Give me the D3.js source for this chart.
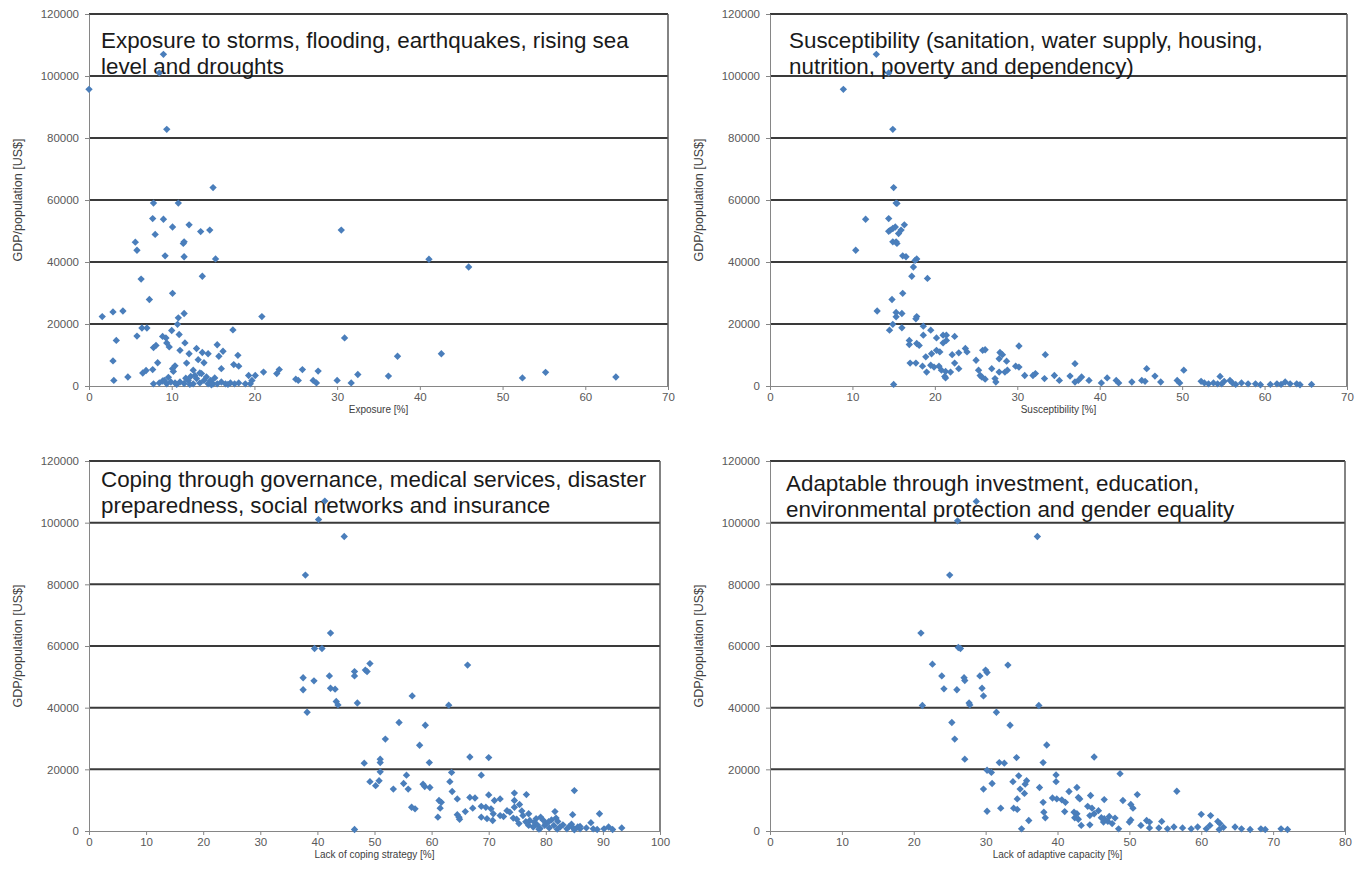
<!DOCTYPE html>
<html lang="en">
<head>
<meta charset="utf-8">
<title>GDP per capita vs. vulnerability components</title>
<script src="https://d3js.org/d3.v7.min.js"></script>
<style>
  body { margin: 0; background: #fff; }
  text { font-family: "Liberation Sans", Arial, sans-serif; }
</style>
</head>
<body>
<div id="chart"></div>
<script>
// each point: [percent, GDP/population in US$]
var exposure = [
  [0,95700],[9.0,107000],[8.5,101000],[9.4,82800],[15.0,64000],[7.8,59000],[10.8,59000],[7.7,54000],
  [9.0,53800],[10.1,51300],[12.1,52000],[8.0,48900],[13.5,49800],[14.6,50300],[5.6,46400],[5.8,43800],
  [11.4,46000],[11.5,46500],[9.2,42000],[11.5,41700],[15.3,41000],[30.5,50300],[41.1,40900],[45.9,38400],
  [13.7,35400],[6.3,34500],[10.1,29900],[7.3,27900],[1.6,22400],[2.9,23900],[4.1,24200],[11.5,23400],
  [10.8,22000],[20.9,22400],[10.7,19900],[6.4,18700],[7.0,18700],[17.4,18100],[10.0,17900],[10.9,16600],
  [5.8,16100],[8.9,16000],[9.3,15500],[3.3,14700],[30.9,15500],[11.6,13900],[9.4,13900],[15.5,13300],
  [7.8,12400],[8.1,13100],[9.7,12600],[13.0,12100],[11.0,11500],[13.7,10800],[14.4,10400],[16.2,11200],
  [12.1,10400],[18.0,9900],[15.7,9600],[42.6,10400],[37.3,9600],[2.9,8100],[13.2,8500],[8.3,7500],
  [13.9,7500],[17.5,6900],[18.1,6400],[10.4,6500],[11.8,7400],[16.0,5600],[7.7,5300],[6.9,5000],
  [6.5,4200],[10.1,5600],[10.2,4700],[12.6,5100],[23.0,5300],[22.7,4000],[21.1,4500],[25.8,5300],
  [27.7,4800],[55.2,4400],[32.5,3700],[36.2,3200],[63.7,2900],[52.4,2600],[4.7,2900],[3.0,1800],
  [19.3,3400],[20.1,3400],[25.0,2200],[25.3,1800],[27.1,1800],[27.5,1000],[30.0,1800],[31.7,1000],
  [8.5,1000],[9.1,1800],[9.4,700],[10.4,1000],[11.0,1300],[11.5,800],[12.0,1800],[12.3,3100],
  [12.6,700],[13.0,2400],[13.4,1000],[13.6,4000],[13.9,1800],[14.2,2900],[14.4,700],[14.7,1800],
  [15.0,700],[15.5,700],[16.0,1300],[16.5,700],[17.1,1000],[17.6,700],[18.1,1000],[7.8,700],
  [8.9,1600],[9.9,1300],[13.4,4200],[12.8,3400],[18.9,700],[19.7,1800],[19.5,700],[10.6,500],
  [12.2,500],[14.8,400],[16.8,500],[11.7,2500],[15.2,2600],[9.6,2800]
];

var susceptibility = [
  [8.9,95700],[12.9,107000],[14.4,101000],[14.9,82800],[15.0,64000],[15.3,59000],[15.4,58900],[11.6,53800],
  [14.4,54000],[14.9,50800],[14.6,50300],[14.4,49900],[15.2,51300],[16.3,52000],[15.9,50300],[15.6,49200],
  [14.9,46500],[15.3,46500],[15.4,46000],[10.4,43800],[16.1,42000],[16.5,41700],[17.8,41000],[17.6,40500],
  [17.4,38400],[17.2,35400],[19.1,34700],[16.1,29900],[14.8,27900],[13.0,24200],[15.3,23700],[15.3,22300],
  [16.0,23400],[17.8,22400],[17.7,21700],[14.9,19900],[16.0,18800],[14.5,18000],[18.6,19300],[19.5,18000],
  [18.6,16400],[20.2,15500],[21.0,16400],[21.4,16400],[22.4,16000],[21.4,14700],[21.0,13900],[16.9,14700],
  [16.9,13400],[17.8,13700],[18.1,13100],[30.2,12900],[23.7,12100],[23.9,11000],[25.8,11500],[26.1,11700],
  [20.2,11500],[20.6,11000],[19.6,10400],[22.9,10700],[22.1,10100],[33.4,10100],[18.9,9400],[27.9,10800],
  [28.2,10100],[27.8,8800],[28.7,8000],[25.0,8300],[17.0,7400],[17.7,7400],[37.0,7200],[19.5,6700],
  [18.5,6400],[19.9,6100],[20.5,6400],[22.9,5600],[22.4,7400],[29.8,6400],[30.2,6100],[45.7,5600],
  [50.2,5100],[26.9,5600],[25.3,5100],[20.8,5100],[21.3,4700],[21.9,4500],[19.0,4500],[28.5,4500],
  [28.8,5100],[27.8,4500],[32.2,4000],[31.9,3400],[30.9,3400],[21.2,3100],[21.3,2600],[25.5,3400],
  [25.7,2900],[26.1,2200],[27.3,2400],[27.4,1300],[34.5,3400],[36.4,3200],[37.8,2900],[46.7,3200],
  [40.9,2600],[54.6,3100],[33.3,2400],[35.1,1800],[37.4,1800],[37.0,1300],[38.7,1800],[40.2,1000],
  [42.0,1800],[42.3,1000],[43.9,1300],[45.1,1800],[45.5,1500],[47.4,1300],[49.4,1800],[49.7,1000],
  [52.3,1500],[52.7,1000],[53.2,700],[54.3,700],[55.1,1500],[55.8,1800],[56.1,1000],[57.2,1000],
  [58.0,700],[58.9,700],[60.7,500],[61.5,700],[62.5,1300],[63.1,700],[63.9,700],[65.7,500],
  [15.0,500],[53.8,1000],[54.8,700],[56.5,500],[59.5,400],[62.0,500],[64.3,400]
];

var coping = [
  [41.3,107000],[40.2,101000],[44.7,95500],[37.9,83000],[42.3,64200],[39.5,59200],[40.8,59200],[49.2,54300],
  [66.3,53800],[48.4,52200],[48.7,51700],[46.5,51700],[46.5,50300],[37.5,49700],[42.1,50300],[39.4,48700],
  [42.3,46300],[43.1,46000],[37.5,45800],[56.6,43800],[43.3,42000],[43.6,40900],[47.0,41500],[63.0,40800],
  [38.2,38500],[54.3,35200],[58.9,34300],[51.9,29800],[57.9,27800],[66.7,24000],[70.0,23800],[51.0,23300],
  [51.0,22200],[48.2,22000],[59.6,22200],[51.0,19200],[63.5,19000],[68.7,18100],[55.6,18100],[50.8,16300],
  [49.2,16000],[63.2,16000],[55.1,15400],[58.5,15200],[58.8,14400],[50.2,14700],[59.7,14100],[53.3,13600],
  [55.9,13600],[85.0,13100],[63.6,12800],[74.5,12300],[76.6,11800],[70.0,11700],[66.7,10900],[67.6,10700],
  [64.5,10400],[72.0,10400],[71.0,9900],[61.3,9900],[61.7,9300],[74.5,9900],[75.4,8600],[68.7,8000],
  [69.5,7700],[74.5,7700],[56.5,7700],[57.1,7200],[61.5,7400],[67.2,7400],[70.4,7200],[73.2,6600],
  [73.7,6100],[65.9,6300],[81.6,6300],[89.4,5600],[84.7,5300],[77.0,5600],[70.8,5600],[72.0,5000],
  [72.6,4700],[64.5,5300],[64.8,4500],[68.7,4500],[61.1,4500],[74.3,4200],[74.9,3800],[69.7,4000],
  [70.7,3400],[64.9,3800],[77.2,3400],[78.3,4000],[79.1,4500],[79.5,3600],[81.0,3600],[81.8,4200],
  [82.1,3100],[75.3,2400],[87.9,2700],[77.0,1800],[77.8,1300],[78.5,2000],[79.8,1800],[80.6,1000],
  [81.4,1800],[82.5,1300],[83.7,700],[84.1,1500],[84.8,1000],[85.6,1300],[86.0,700],[87.1,1000],
  [88.3,700],[89.0,500],[90.2,700],[91.0,1300],[91.7,500],[93.3,1000],[46.5,500],[76.5,3000],
  [78.0,2800],[80.0,2500],[83.0,2000],[86.0,1500],[79.0,800],[82.0,600],[85.0,400],[76.0,5000],
  [75.8,6500],[80.5,3000],[78.8,600],[84.5,2200]
];

var adaptive = [
  [28.7,106900],[26.1,100600],[37.2,95500],[25.0,83000],[21.0,64200],[26.2,59500],[26.5,59200],[22.6,54100],
  [33.1,53800],[30.0,52200],[30.2,51400],[23.9,50300],[29.2,50300],[27.0,49700],[27.1,48800],[24.2,46100],
  [29.5,46300],[26.0,45800],[29.7,43800],[27.7,41500],[27.8,40900],[21.2,40700],[37.4,40700],[31.5,38500],
  [33.4,34300],[25.3,35200],[25.7,29800],[38.5,27900],[45.1,24000],[27.1,23300],[34.3,23800],[31.9,22200],
  [32.6,22000],[38.0,22200],[48.7,18600],[30.2,19700],[30.8,19000],[39.8,18200],[39.8,16000],[34.6,17900],
  [35.7,16300],[35.5,15200],[33.8,16000],[30.9,15400],[37.5,14100],[42.7,14100],[29.7,13600],[34.8,13600],
  [56.6,12900],[41.6,12800],[35.4,12200],[51.1,11800],[44.6,11500],[42.9,10900],[43.1,10400],[39.3,10700],
  [39.9,10400],[40.6,10100],[34.4,10400],[46.5,10200],[49.1,9900],[41.1,9300],[38.0,9300],[50.2,8600],
  [50.5,7400],[44.2,8000],[44.8,7400],[33.9,7400],[34.4,7000],[32.1,7400],[30.2,6400],[38.1,6100],
  [41.0,6300],[42.3,6100],[42.7,5600],[45.7,6600],[45.1,5600],[44.5,5000],[60.0,5400],[61.3,5000],
  [38.3,4300],[42.4,4300],[42.9,3800],[46.1,4300],[46.5,4000],[47.2,4700],[48.0,4200],[36.0,3400],
  [50.2,3600],[50.0,2900],[46.4,2900],[47.0,3100],[47.6,2400],[52.4,3400],[52.8,2900],[54.5,3100],
  [62.3,3100],[62.6,2400],[43.3,1800],[44.5,2000],[51.6,1800],[61.2,1800],[64.7,1300],[54.1,1000],
  [55.3,700],[56.2,1300],[57.4,1000],[58.6,700],[59.5,1300],[60.7,700],[62.5,500],[63.1,1200],
  [65.6,700],[66.8,500],[68.3,700],[68.9,500],[71.1,700],[72.0,500],[35.0,700],[48.5,700],[52.8,1000]
];

var yTicks = [0, 20000, 40000, 60000, 80000, 100000, 120000];
var yTitle = "GDP/population [US$]";

var panels = [
  { data: exposure, xMax: 70, xTitle: "Exposure  [%]",
    title: ["Exposure to storms, flooding, earthquakes, rising sea", "level and droughts"],
    left: 89, top: 14, width: 579, height: 372, titleDx: 12, titleDy: 34 },
  { data: susceptibility, xMax: 70, xTitle: "Susceptibility [%]",
    title: ["Susceptibility (sanitation, water supply, housing,", "nutrition, poverty and dependency)"],
    left: 770, top: 14, width: 577, height: 372, titleDx: 19, titleDy: 34 },
  { data: coping, xMax: 100, xTitle: "Lack of coping strategy [%]",
    title: ["Coping through governance, medical services, disaster", "preparedness, social networks and insurance"],
    left: 89, top: 461, width: 571, height: 370, titleDx: 12, titleDy: 26 },
  { data: adaptive, xMax: 80, xTitle: "Lack of adaptive capacity [%]",
    title: ["Adaptable through investment, education,", "environmental protection and gender equality"],
    left: 770, top: 461, width: 575, height: 370, titleDx: 16, titleDy: 30 }
];

var svg = d3.select("#chart").append("svg")
    .attr("width", 1364)
    .attr("height", 880);

var diamond = d3.symbol().type(d3.symbolSquare).size(27);

panels.forEach(function(p) {
  var g = svg.append("g").attr("transform", "translate(" + p.left + "," + p.top + ")");

  var x = d3.scaleLinear().domain([0, p.xMax]).range([0, p.width]);
  var y = d3.scaleLinear().domain([0, 120000]).range([p.height, 0]);

  // horizontal gridlines (the top one closes the box)
  g.selectAll("line.grid")
    .data(yTicks.slice(1))
    .enter().append("line")
      .attr("class", "grid")
      .attr("x1", 0).attr("x2", p.width)
      .attr("y1", function(d) { return y(d); })
      .attr("y2", function(d) { return y(d); })
      .attr("stroke", "#3a3a3a")
      .attr("stroke-width", 2);

  // right frame
  g.append("line")
    .attr("x1", p.width).attr("x2", p.width)
    .attr("y1", y(120000)).attr("y2", y(0))
    .attr("stroke", "#5a5a5a")
    .attr("stroke-width", 1.5);

  var xAxis = g.append("g")
    .attr("transform", "translate(0," + p.height + ")")
    .call(d3.axisBottom(x).tickValues(d3.range(0, p.xMax + 1, 10)).tickSize(4).tickSizeOuter(0).tickPadding(3));

  var yAxis = g.append("g")
    .call(d3.axisLeft(y).tickValues(yTicks).tickSize(4).tickSizeOuter(0).tickPadding(6).tickFormat(d3.format("d")));

  [xAxis, yAxis].forEach(function(a) {
    a.select(".domain").attr("stroke", "#868686");
    a.selectAll(".tick line").attr("stroke", "#868686");
    a.selectAll(".tick text")
      .attr("fill", "#595959")
      .style("font-size", "11.5px");
  });

  // axis titles
  g.append("text")
    .attr("x", p.width / 2)
    .attr("y", p.height + 27)
    .attr("text-anchor", "middle")
    .attr("fill", "#404040")
    .style("font-size", "10px")
    .text(p.xTitle);

  g.append("text")
    .attr("transform", "translate(-67," + (p.height / 2) + ") rotate(-90)")
    .attr("text-anchor", "middle")
    .attr("fill", "#404040")
    .style("font-size", "12.5px")
    .text(yTitle);

  // panel heading inside the plot box
  var t = g.append("text")
    .attr("x", p.titleDx)
    .attr("y", p.titleDy)
    .attr("fill", "#1a1a1a")
    .style("font-size", "22.4px");
  t.selectAll("tspan")
    .data(p.title)
    .enter().append("tspan")
      .attr("x", p.titleDx)
      .attr("dy", function(d, i) { return i === 0 ? 0 : 26; })
      .text(function(d) { return d; });

  // markers
  g.selectAll("path.pt")
    .data(p.data)
    .enter().append("path")
      .attr("class", "pt")
      .attr("d", diamond)
      .attr("transform", function(d) {
        return "translate(" + x(d[0]) + "," + y(d[1]) + ") rotate(45)";
      })
      .attr("fill", "#4a7ebb");
});
</script>
</body>
</html>
